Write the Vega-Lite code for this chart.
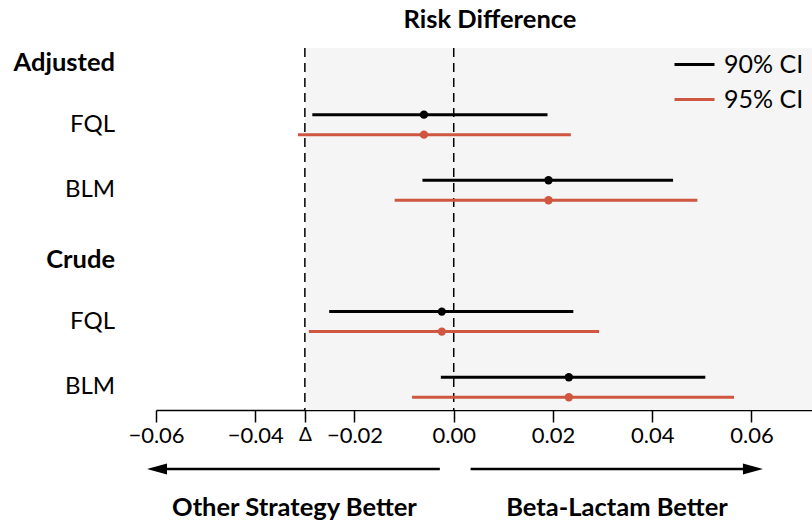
{
  "$schema": "https://vega.github.io/schema/vega-lite/v6.json",
  "autosize": {"type": "none"},
  "padding": {"left": 156, "top": 48, "right": 0, "bottom": 113},
  "width": 656,
  "height": 362,
  "background": "white",
  "config": {"view": {"stroke": null}, "font": "Lato"},
  "title": {"text": "Risk Difference", "font": "Lato", "fontSize": 25.5, "fontWeight": "bold", "color": "black", "anchor": "middle", "dx": 6, "offset": 10},
  "datasets": {
    "ci": [
      {"row": 1, "analysis": "Adjusted", "strategy": "FQL", "ci": "90% CI", "est": -0.0060, "lo": -0.0285, "hi": 0.0189},
      {"row": 1, "analysis": "Adjusted", "strategy": "FQL", "ci": "95% CI", "est": -0.0060, "lo": -0.0314, "hi": 0.0236},
      {"row": 2, "analysis": "Adjusted", "strategy": "BLM", "ci": "90% CI", "est": 0.0191, "lo": -0.0063, "hi": 0.0442},
      {"row": 2, "analysis": "Adjusted", "strategy": "BLM", "ci": "95% CI", "est": 0.0191, "lo": -0.0119, "hi": 0.0491},
      {"row": 4, "analysis": "Crude", "strategy": "FQL", "ci": "90% CI", "est": -0.0024, "lo": -0.0251, "hi": 0.0241},
      {"row": 4, "analysis": "Crude", "strategy": "FQL", "ci": "95% CI", "est": -0.0024, "lo": -0.0292, "hi": 0.0293},
      {"row": 5, "analysis": "Crude", "strategy": "BLM", "ci": "90% CI", "est": 0.0232, "lo": -0.0026, "hi": 0.0507},
      {"row": 5, "analysis": "Crude", "strategy": "BLM", "ci": "95% CI", "est": 0.0232, "lo": -0.0084, "hi": 0.0565}
    ],
    "labels": [
      {"row": 0, "label": "Adjusted", "kind": "header"},
      {"row": 1, "label": "FQL", "kind": "item"},
      {"row": 2, "label": "BLM", "kind": "item"},
      {"row": 3, "label": "Crude", "kind": "header"},
      {"row": 4, "label": "FQL", "kind": "item"},
      {"row": 5, "label": "BLM", "kind": "item"}
    ],
    "band": [{"from": -0.03, "to": 0.0722}],
    "refs": [{"x": -0.03}, {"x": 0}],
    "arrows": [
      {"side": "left", "from": -0.0028, "to": -0.0600, "head": -0.0598},
      {"side": "right", "from": 0.0034, "to": 0.0605, "head": 0.0603}
    ],
    "notes": [
      {"x": -0.0321, "text": "Other Strategy Better"},
      {"x": 0.0329, "text": "Beta-Lactam Better"}
    ]
  },
  "layer": [
    {
      "data": {"name": "band"},
      "mark": {"type": "rect", "color": "#f4f5f4"},
      "encoding": {
        "x": {"field": "from", "type": "quantitative", "scale": {"domain": [-0.06, 0.0722], "nice": false, "zero": false},
          "axis": {"values": [-0.06, -0.04, -0.03, -0.02, 0, 0.02, 0.04, 0.06], "format": ".2f",
            "labelExpr": "datum.value == -0.03 ? 'Δ' : datum.label",
            "title": null, "grid": false, "domainColor": "black", "domainWidth": 1.5,
            "tickColor": "black", "tickWidth": 1.5, "tickSize": 12,
            "labelFontSize": {"condition": {"test": "datum.value == -0.03", "value": 19}, "value": 22},
            "labelFont": "Lato", "labelColor": "black", "labelPadding": 3, "labelOverlap": false, "labelFlush": false}},
        "x2": {"field": "to"}
      }
    },
    {
      "data": {"name": "refs"},
      "mark": {"type": "rule", "color": "black", "strokeWidth": 1.5, "strokeDash": [9, 6]},
      "encoding": {"x": {"field": "x", "type": "quantitative"}}
    },
    {
      "data": {"name": "ci"},
      "transform": [{"filter": "datum.ci == '90% CI'"}],
      "mark": {"type": "rule", "strokeWidth": 3, "yOffset": -10},
      "encoding": {
        "y": {"field": "row", "type": "quantitative", "scale": {"domain": [-0.168, 5.347], "reverse": true, "nice": false, "zero": false}, "axis": null},
        "x": {"field": "lo", "type": "quantitative"},
        "x2": {"field": "hi"},
        "color": {"field": "ci", "type": "nominal", "scale": {"domain": ["90% CI", "95% CI"], "range": ["black", "#cf5641"]},
          "legend": {"orient": "none", "legendX": 517, "legendY": -5, "title": null, "symbolType": "stroke", "symbolSize": 1600, "symbolStrokeWidth": 3,
            "labelFontSize": 25, "labelFont": "Lato", "labelColor": "black", "labelOffset": 8, "rowPadding": -2, "padding": 0}}
      }
    },
    {
      "data": {"name": "ci"},
      "transform": [{"filter": "datum.ci == '95% CI'"}],
      "mark": {"type": "rule", "strokeWidth": 3, "yOffset": 10},
      "encoding": {
        "y": {"field": "row", "type": "quantitative"},
        "x": {"field": "lo", "type": "quantitative"},
        "x2": {"field": "hi"},
        "color": {"field": "ci", "type": "nominal"}
      }
    },
    {
      "data": {"name": "ci"},
      "transform": [{"filter": "datum.ci == '90% CI'"}],
      "mark": {"type": "point", "filled": true, "opacity": 1, "size": 70, "yOffset": -10},
      "encoding": {
        "y": {"field": "row", "type": "quantitative"},
        "x": {"field": "est", "type": "quantitative"},
        "color": {"field": "ci", "type": "nominal"}
      }
    },
    {
      "data": {"name": "ci"},
      "transform": [{"filter": "datum.ci == '95% CI'"}],
      "mark": {"type": "point", "filled": true, "opacity": 1, "size": 70, "yOffset": 10},
      "encoding": {
        "y": {"field": "row", "type": "quantitative"},
        "x": {"field": "est", "type": "quantitative"},
        "color": {"field": "ci", "type": "nominal"}
      }
    },
    {
      "data": {"name": "labels"},
      "transform": [{"filter": "datum.kind == 'header'"}],
      "mark": {"type": "text", "align": "right", "baseline": "middle", "dx": -41, "dy": 4, "fontSize": 25.5, "fontWeight": "bold", "font": "Lato", "color": "black"},
      "encoding": {"x": {"datum": -0.06}, "y": {"field": "row", "type": "quantitative"}, "text": {"field": "label"}}
    },
    {
      "data": {"name": "labels"},
      "transform": [{"filter": "datum.kind == 'item'"}],
      "mark": {"type": "text", "align": "right", "baseline": "middle", "dx": -41, "fontSize": 24, "font": "Lato", "color": "black"},
      "encoding": {"x": {"datum": -0.06}, "y": {"field": "row", "type": "quantitative"}, "text": {"field": "label"}}
    },
    {
      "data": {"name": "arrows"},
      "mark": {"type": "rule", "color": "black", "strokeWidth": 2.5},
      "encoding": {"x": {"field": "from", "type": "quantitative"}, "x2": {"field": "to"}, "y": {"datum": 6.245}}
    },
    {
      "data": {"name": "arrows"},
      "mark": {"type": "point", "filled": true, "opacity": 1, "color": "black", "size": 400},
      "encoding": {
        "x": {"field": "head", "type": "quantitative"},
        "y": {"datum": 6.245},
        "shape": {"field": "side", "type": "nominal", "scale": {"domain": ["left", "right"], "range": ["M-1,0L1,-0.55L1,0.55Z", "M1,0L-1,-0.55L-1,0.55Z"]}, "legend": null}
      }
    },
    {
      "data": {"name": "notes"},
      "mark": {"type": "text", "align": "center", "baseline": "middle", "fontSize": 25.5, "fontWeight": "bold", "font": "Lato", "color": "black"},
      "encoding": {"x": {"field": "x", "type": "quantitative"}, "y": {"datum": 6.84}, "text": {"field": "text"}}
    }
  ]
}
